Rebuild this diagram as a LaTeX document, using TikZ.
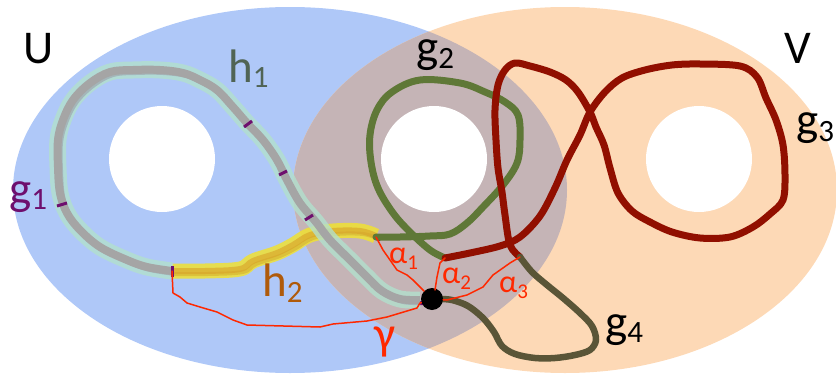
\documentclass[tikz,border=0pt]{standalone}
\usepackage{fontspec}
\setmainfont{Carlito}
\definecolor{ublue}{RGB}{175,200,248}
\definecolor{vbeige}{RGB}{253,217,182}
\definecolor{ovl}{RGB}{197,180,182}
\definecolor{gone}{RGB}{110,15,110}
\definecolor{hone}{RGB}{80,100,85}
\definecolor{htwo}{RGB}{175,90,10}
\definecolor{gtwo}{RGB}{95,120,55}
\definecolor{gthree}{RGB}{145,15,0}
\definecolor{gfour}{RGB}{90,85,55}
\definecolor{halo}{RGB}{178,224,205}
\definecolor{grayl}{RGB}{165,165,165}
\definecolor{redl}{RGB}{255,40,0}
\definecolor{yel}{RGB}{240,225,50}
\definecolor{goldc}{RGB}{215,160,40}
\newcommand\lbl[3][47]{{\fontsize{#1}{#1}\selectfont #2}\raisebox{-0.3\height}{\fontsize{31}{31}\selectfont #3}}
\newcommand\alb[2]{{\fontsize{32}{32}\selectfont #1}\raisebox{-6pt}{\fontsize{21}{21}\selectfont #2}}
\begin{document}
\begin{tikzpicture}[x=1pt,y=-1pt,
  curve/.style={line cap=round,line join=round},
  gthick/.style={curve,line width=7pt},
  thinred/.style={curve,draw=redl,line width=1.5pt},
  lab/.style={anchor=base west,inner sep=0pt}]
\useasboundingbox (0,0) rectangle (836,375);
% regions
\fill[ublue] (290,190) ellipse [x radius=277,y radius=183];
\fill[vbeige] (565,190) ellipse [x radius=272,y radius=183];
\begin{scope}
\clip (290,190) ellipse [x radius=277,y radius=183];
\fill[ovl] (565,190) ellipse [x radius=272,y radius=183];
\end{scope}
% holes
\fill[white] (162,159) circle [radius=53];
\fill[white] (434,159) circle [radius=53];
\fill[white] (699,159) circle [radius=53];
% g1 (purple, beneath)
\def\graypath{plot[smooth,tension=0.6] coordinates{(420,300) (400,299) (382,291) (367,277) (350,260) (330,240) (316,222) (300,203) (287,180) (277,160) (263,140) (247,123) (233,107) (217,90) (200,80) (183,73) (160,70) (133,70) (110,72) (90,83) (73,100) (63,120) (58,140) (58,167) (60,193) (67,213) (80,230) (100,247) (127,260) (147,267) (172,271)}}
\def\yelpath{plot[smooth,tension=0.6] coordinates{(172,271) (205,271) (240,269) (253,261) (277,253) (293,245) (310,235) (333,231) (360,231) (376,236)}}
\begin{scope}[shift={(3,3)}]
\draw[curve,gone,line width=4pt] \graypath;
\draw[curve,gone,line width=4pt] \yelpath;
\end{scope}
% h2 (yellow band)
\draw[curve,yel,opacity=0.85,line width=15pt,line cap=butt] \yelpath;
\draw[curve,goldc,opacity=0.6,line width=6pt,line cap=butt] \yelpath;
% h1 (gray with halo)
\draw[curve,halo,opacity=0.8,line width=17pt,line cap=butt] \graypath;
\draw[curve,grayl,line width=8pt,line cap=butt] \graypath;
% purple ticks
\draw[gone,line width=3pt] (57,206) -- (67,203);
\draw[gone,line width=3pt] (244,127) -- (252,121);
\draw[gone,line width=3pt] (279,175) -- (287,171);
\draw[gone,line width=3pt] (305,220) -- (313,215);
\draw[gone,line width=3pt] (172,266) -- (172,277);
% g2
\draw[gthick,gtwo] plot[smooth,tension=0.6] coordinates{(376,237) (400,237) (430,236) (450,234) (467,223) (483,207) (503,185) (517,163) (520,140) (518,115) (505,102) (485,92) (460,83) (420,80) (392,92) (377,110) (370,135) (371,162) (378,188) (393,213) (410,232) (430,250) (445,258)};
% g3
\draw[gthick,gthree] plot[smooth,tension=0.55] coordinates{(445,258) (470,253) (500,246) (520,237) (540,216) (555,188) (567,160) (580,135) (590,112) (605,92) (622,78) (645,70) (672,65) (700,64) (740,66) (757,77) (766,98) (776,120) (783,145) (785,175) (783,200) (770,214) (753,227) (730,237) (700,238) (672,232) (650,222) (632,211) (618,193) (610,168) (604,145) (596,127) (590,112) (578,92) (566,80) (550,72) (530,66) (515,63) (505,70) (498,85) (495,110) (496,140) (498,168) (502,192) (505,215) (510,245) (520,257)};
% g4
\draw[curve,gfour,line width=6.5pt] plot[smooth,tension=0.55] coordinates{(520,257) (532,272) (547,285) (563,298) (580,313) (592,326) (596,340) (590,350) (575,355) (555,358) (535,358) (515,354) (502,346) (494,332) (483,318) (468,306) (452,300) (440,299)};
% red paths
\node[circle,fill=black,inner sep=0pt,minimum size=22pt] (p) at (432,299) {};
\coordinate (a1) at (376,237);
\coordinate (a2) at (445,258);
\coordinate (a3) at (520,257);
\coordinate (gs) at (172,271);
\draw[thinred] (gs) -- (173,293) -- (180,297) -- (187,303) -- (200,307) -- (217,312) -- (233,320) -- (247,325) -- (320,327) -- (333,324) -- (367,321) -- (387,317) -- (417,308) -- (420,303) -- (p);
\draw[thinred] (a1) -- (383,250) -- (390,260) -- (397,270) -- (407,275) -- (413,280) -- (420,287) -- (p);
\draw[thinred] (a2) -- (440,263) -- (437,277) -- (435,290) -- (p);
\draw[thinred] (a3) -- (510,263) -- (493,275) -- (483,287) -- (467,295) -- (447,300) -- (p);
% labels
\node[lab] (lU) at (23,63) {\fontsize{47}{47}\selectfont U};
\node[lab] (lV) at (784,63) {\fontsize{47}{47}\selectfont V};
\node[lab,text=hone] (lh1) at (228,82) {\lbl{h}{1}};
\node[lab,text=htwo] (lh2) at (262,296) {\lbl{h}{2}};
\node[lab,text=gone] (lg1) at (9,204) {\lbl{g}{1}};
\node[lab] (lg2) at (416,62) {\lbl{g}{2}};
\node[lab] (lg3) at (796,135) {\lbl{g}{3}};
\node[lab] (lg4) at (605,337) {\lbl{g}{4}};
\node[lab,text=redl] (lgam) at (374,349) {\fontsize{47}{47}\selectfont γ};
\node[lab,text=redl] (lal1) at (389,263) {\alb{α}{1}};
\node[lab,text=redl] (lal2) at (442,283) {\alb{α}{2}};
\node[lab,text=redl] (lal3) at (499,292) {\alb{α}{3}};
\end{tikzpicture}
\end{document}
